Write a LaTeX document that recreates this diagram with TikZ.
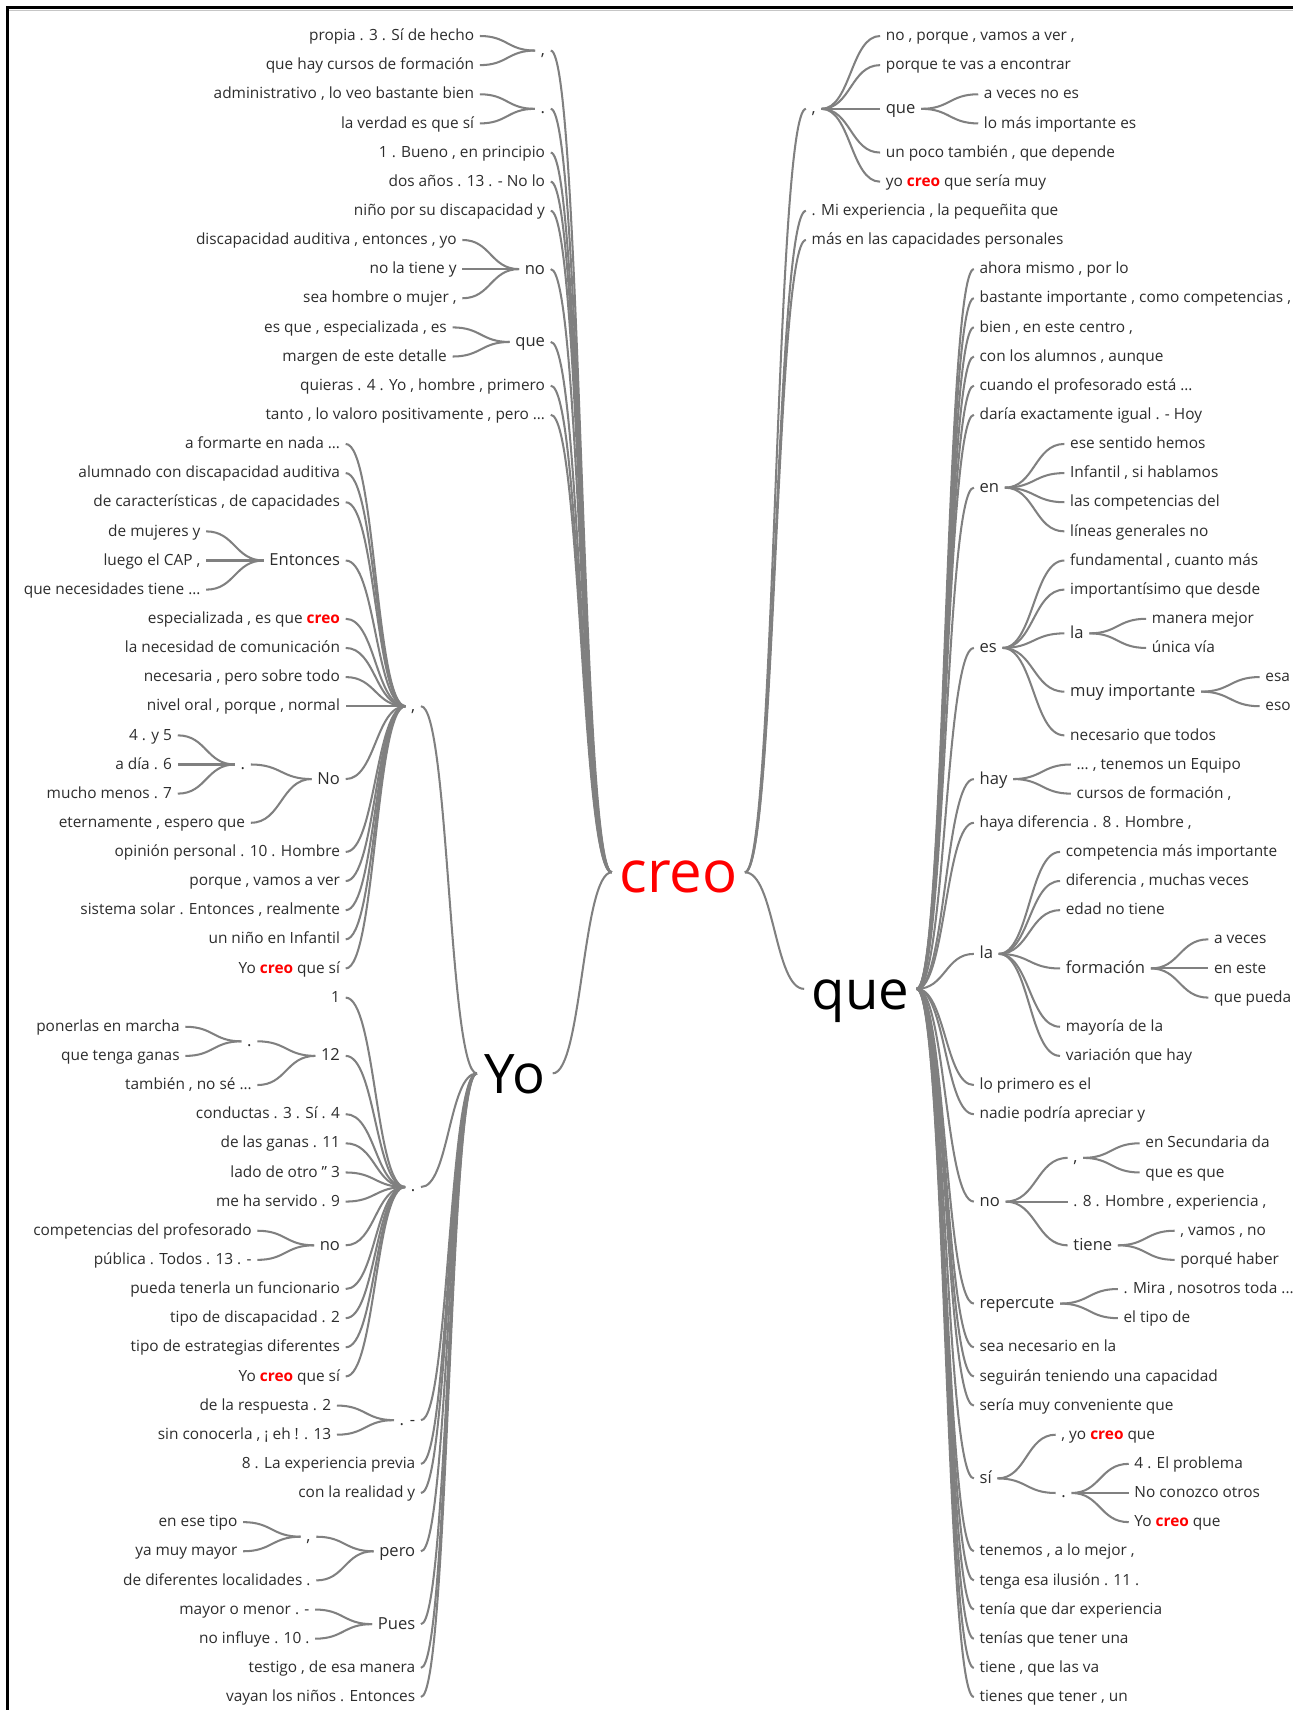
\documentclass[tikz,border=0pt]{standalone}
\usepackage{fontspec}
\setmainfont{Open Sans}
\usetikzlibrary{calc}

\definecolor{linkgray}{RGB}{128,128,128}
\definecolor{wordgray}{RGB}{45,45,45}
\definecolor{hitred}{RGB}{255,0,0}

% row number -> y
\newcommand\R[1]{33+26.72*#1}
\newcommand\hit{\textcolor{hitred}{\bfseries creo}}
% parent -> list of children
\newcommand\fanL[2]{\foreach \c in {#2} \draw[link] (#1.west) to[wt] (\c.east);}
\newcommand\fanR[2]{\foreach \c in {#2} \draw[link] (#1.east) to[wt] (\c.west);}

\tikzset{
  wt/.style={to path={let \p1=(\tikztostart),\p2=(\tikztotarget) in
    .. controls ({(\x1+\x2)/2},\y1) and ({(\x1+\x2)/2},\y2) .. (\tikztotarget)}},
  link/.style={draw=linkgray,line width=1.4pt},
  word/.style={text=wordgray,font=\fontsize{10.6}{12}\selectfont,inner xsep=3.75pt,inner ysep=0pt,text height=8.5pt,text depth=2.1pt},
  mid/.style={font=\fontsize{11.4}{13}\selectfont,text height=9.1pt,text depth=2.3pt},
  lw/.style={word,anchor=east},
  rw/.style={word,anchor=west},
  big/.style={font=\fontsize{37.5}{40}\selectfont,text=black,inner xsep=5pt,inner ysep=0pt,text height=30pt,text depth=2pt},
}

\begin{document}
\begin{tikzpicture}[x=0.75pt,y=-0.75pt]
\useasboundingbox (0,0) rectangle (1186,1568);
\fill[white] (0,0) rectangle (1186,1568);
% frame
\draw[gray!45,line width=0.6pt] (8,9.6) -- (1186,9.6);
\draw[line width=2pt] (6.7,1568) -- (6.7,6.7) -- (1186,6.7);

% Big words
\node[big,text=hitred,font=\fontsize{40}{42}\selectfont] (creo) at (622,\R{28.7}) {creo};
\node[big] (yo) at (472,\R{35.6}) {Yo};
\node[big] (que) at (789,\R{32.7}) {que};

%% ---------------- left of creo
\node[lw,mid] (Lcomma) at (505,\R{0.5}) {,};
\node[lw,mid] (Ldot) at (505,\R{2.5}) {.};
\node[lw] (L4) at (505,\R{4}) {1 . Bueno , en principio};
\node[lw] (L5) at (505,\R{5}) {dos años . 13 . - No lo};
\node[lw] (L6) at (505,\R{6}) {niño por su discapacidad y};
\node[lw,mid] (Lno) at (505,\R{8}) {no};
\node[lw,mid] (Lque) at (505,\R{10.5}) {que};
\node[lw] (L12) at (505,\R{12}) {quieras . 4 . Yo , hombre , primero};
\node[lw] (L13) at (505,\R{13}) {tanto , lo valoro positivamente , pero …};

\node[lw] (L0) at (440,\R{0}) {propia . 3 . Sí de hecho};
\node[lw] (L1) at (440,\R{1}) {que hay cursos de formación};
\node[lw] (L2) at (440,\R{2}) {administrativo , lo veo bastante bien};
\node[lw] (L3) at (440,\R{3}) {la verdad es que sí};
\node[lw] (L7) at (424,\R{7}) {discapacidad auditiva , entonces , yo};
\node[lw] (L8) at (424,\R{8}) {no la tiene y};
\node[lw] (L9) at (424,\R{9}) {sea hombre o mujer ,};
\node[lw] (L10) at (415,\R{10}) {es que , especializada , es};
\node[lw] (L11) at (415,\R{11}) {margen de este detalle};

%% ---------------- left of Yo
\node[lw,mid] (Ycomma) at (386,\R{23}) {,};
\node[lw,mid] (Ydot) at (386,\R{39.5}) {.};
\node[lw,mid] (Ydash) at (386,\R{47.5}) {. -};
\node[lw] (L49) at (386,\R{49}) {8 . La experiencia previa};
\node[lw] (L50) at (386,\R{50}) {con la realidad y};
\node[lw,mid] (Ypero) at (386,\R{52}) {pero};
\node[lw,mid] (Ypues) at (386,\R{54.5}) {Pues};
\node[lw] (L56) at (386,\R{56}) {testigo , de esa manera};
\node[lw] (L57) at (386,\R{57}) {vayan los niños . Entonces};

% under the comma
\node[lw] (L14) at (317,\R{14}) {a formarte en nada …};
\node[lw] (L15) at (317,\R{15}) {alumnado con discapacidad auditiva};
\node[lw] (L16) at (317,\R{16}) {de características , de capacidades};
\node[lw,mid] (Lent) at (317,\R{18}) {Entonces};
\node[lw] (L20) at (317,\R{20}) {especializada , es que \hit};
\node[lw] (L21) at (317,\R{21}) {la necesidad de comunicación};
\node[lw] (L22) at (317,\R{22}) {necesaria , pero sobre todo};
\node[lw] (L23) at (317,\R{23}) {nivel oral , porque , normal};
\node[lw,mid] (LNo) at (317,\R{25.5}) {No};
\node[lw] (L28) at (317,\R{28}) {opinión personal . 10 . Hombre};
\node[lw] (L29) at (317,\R{29}) {porque , vamos a ver};
\node[lw] (L30) at (317,\R{30}) {sistema solar . Entonces , realmente};
\node[lw] (L31) at (317,\R{31}) {un niño en Infantil};
\node[lw] (L32) at (317,\R{32}) {Yo \hit{} que sí};

\node[lw] (L17) at (189,\R{17}) {de mujeres y};
\node[lw] (L18) at (189,\R{18}) {luego el CAP ,};
\node[lw] (L19) at (189,\R{19}) {que necesidades tiene …};
\node[lw,mid] (LNodot) at (230,\R{25}) {.};
\node[lw] (L27) at (230,\R{27}) {eternamente , espero que};
\node[lw] (L24) at (163,\R{24}) {4 . y 5};
\node[lw] (L25) at (163,\R{25}) {a día . 6};
\node[lw] (L26) at (163,\R{26}) {mucho menos . 7};

% under the dot
\node[lw] (L33) at (317,\R{33}) {1};
\node[lw,mid] (Ltwelve) at (317,\R{35}) {12};
\node[lw] (L37) at (317,\R{37}) {conductas . 3 . Sí . 4};
\node[lw] (L38) at (317,\R{38}) {de las ganas . 11};
\node[lw] (L39) at (317,\R{39}) {lado de otro ” 3};
\node[lw] (L40) at (317,\R{40}) {me ha servido . 9};
\node[lw,mid] (Lno2) at (317,\R{41.5}) {no};
\node[lw] (L43) at (317,\R{43}) {pueda tenerla un funcionario};
\node[lw] (L44) at (317,\R{44}) {tipo de discapacidad . 2};
\node[lw] (L45) at (317,\R{45}) {tipo de estrategias diferentes};
\node[lw] (L46) at (317,\R{46}) {Yo \hit{} que sí};

\node[lw,mid] (Ltwdot) at (236,\R{34.5}) {.};
\node[lw] (L36) at (236,\R{36}) {también , no sé …};
\node[lw] (L34) at (170,\R{34}) {ponerlas en marcha};
\node[lw] (L35) at (170,\R{35}) {que tenga ganas};
\node[lw] (L41) at (236,\R{41}) {competencias del profesorado};
\node[lw] (L42) at (236,\R{42}) {pública . Todos . 13 . -};

\node[lw] (L47) at (309,\R{47}) {de la respuesta . 2};
\node[lw] (L48) at (309,\R{48}) {sin conocerla , ¡ eh ! . 13};
\node[lw,mid] (Lpcomma) at (290,\R{51.5}) {,};
\node[lw] (L53) at (290,\R{53}) {de diferentes localidades .};
\node[lw] (L51) at (223,\R{51}) {en ese tipo};
\node[lw] (L52) at (223,\R{52}) {ya muy mayor};
\node[lw] (L54) at (289,\R{54}) {mayor o menor . -};
\node[lw] (L55) at (289,\R{55}) {no influye . 10 .};

%% ---------------- right of creo
\node[rw,mid] (Rcomma) at (739,\R{2.5}) {,};
\node[rw] (R6) at (739,\R{6}) {. Mi experiencia , la pequeñita que};
\node[rw] (R7) at (739,\R{7}) {más en las capacidades personales};

\node[rw] (R0) at (807,\R{0}) {no , porque , vamos a ver ,};
\node[rw] (R1) at (807,\R{1}) {porque te vas a encontrar};
\node[rw,mid] (Rque) at (807,\R{2.5}) {que};
\node[rw] (R4) at (807,\R{4}) {un poco también , que depende};
\node[rw] (R5) at (807,\R{5}) {yo \hit{} que sería muy};
\node[rw] (R2) at (897,\R{2}) {a veces no es};
\node[rw] (R3) at (897,\R{3}) {lo más importante es};

%% ---------------- right of que
\node[rw] (R8) at (893,\R{8}) {ahora mismo , por lo};
\node[rw] (R9) at (893,\R{9}) {bastante importante , como competencias ,};
\node[rw] (R10) at (893,\R{10}) {bien , en este centro ,};
\node[rw] (R11) at (893,\R{11}) {con los alumnos , aunque};
\node[rw] (R12) at (893,\R{12}) {cuando el profesorado está …};
\node[rw] (R13) at (893,\R{13}) {daría exactamente igual . - Hoy};
\node[rw,mid] (Ren) at (893,\R{15.5}) {en};
\node[rw,mid] (Res) at (893,\R{21}) {es};
\node[rw,mid] (Rhay) at (893,\R{25.5}) {hay};
\node[rw] (R27) at (893,\R{27}) {haya diferencia . 8 . Hombre ,};
\node[rw,mid] (Rla) at (893,\R{31.5}) {la};
\node[rw] (R36) at (893,\R{36}) {lo primero es el};
\node[rw] (R37) at (893,\R{37}) {nadie podría apreciar y};
\node[rw,mid] (Rno) at (893,\R{40}) {no};
\node[rw,mid] (Rrep) at (893,\R{43.5}) {repercute};
\node[rw] (R45) at (893,\R{45}) {sea necesario en la};
\node[rw] (R46) at (893,\R{46}) {seguirán teniendo una capacidad};
\node[rw] (R47) at (893,\R{47}) {sería muy conveniente que};
\node[rw,mid] (Rsi) at (893,\R{49.5}) {sí};
\node[rw] (R52) at (893,\R{52}) {tenemos , a lo mejor ,};
\node[rw] (R53) at (893,\R{53}) {tenga esa ilusión . 11 .};
\node[rw] (R54) at (893,\R{54}) {tenía que dar experiencia};
\node[rw] (R55) at (893,\R{55}) {tenías que tener una};
\node[rw] (R56) at (893,\R{56}) {tiene , que las va};
\node[rw] (R57) at (893,\R{57}) {tienes que tener , un};

% en / es / hay
\node[rw] (R14) at (976,\R{14}) {ese sentido hemos};
\node[rw] (R15) at (976,\R{15}) {Infantil , si hablamos};
\node[rw] (R16) at (976,\R{16}) {las competencias del};
\node[rw] (R17) at (976,\R{17}) {líneas generales no};
\node[rw] (R18) at (976,\R{18}) {fundamental , cuanto más};
\node[rw] (R19) at (976,\R{19}) {importantísimo que desde};
\node[rw,mid] (Rla2) at (976,\R{20.5}) {la};
\node[rw,mid] (Rmuy) at (976,\R{22.5}) {muy importante};
\node[rw] (R24) at (976,\R{24}) {necesario que todos};
\node[rw] (R20) at (1051,\R{20}) {manera mejor};
\node[rw] (R21) at (1051,\R{21}) {única vía};
\node[rw] (R22) at (1155,\R{22}) {esa};
\node[rw] (R23) at (1155,\R{23}) {eso};
\node[rw] (R25) at (982,\R{25}) {… , tenemos un Equipo};
\node[rw] (R26) at (982,\R{26}) {cursos de formación ,};

% la
\node[rw] (R28) at (972,\R{28}) {competencia más importante};
\node[rw] (R29) at (972,\R{29}) {diferencia , muchas veces};
\node[rw] (R30) at (972,\R{30}) {edad no tiene};
\node[rw,mid] (Rform) at (972,\R{32}) {formación};
\node[rw] (R34) at (972,\R{34}) {mayoría de la};
\node[rw] (R35) at (972,\R{35}) {variación que hay};
\node[rw] (R31) at (1108,\R{31}) {a veces};
\node[rw] (R32) at (1108,\R{32}) {en este};
\node[rw] (R33) at (1108,\R{33}) {que pueda};

% no / repercute / sí
\node[rw,mid] (Rnocomma) at (979,\R{38.5}) {,};
\node[rw] (R40) at (979,\R{40}) {. 8 . Hombre , experiencia ,};
\node[rw,mid] (Rtiene) at (979,\R{41.5}) {tiene};
\node[rw] (R38) at (1045,\R{38}) {en Secundaria da};
\node[rw] (R39) at (1045,\R{39}) {que es que};
\node[rw] (R41) at (1077,\R{41}) {, vamos , no};
\node[rw] (R42) at (1077,\R{42}) {porqué haber};
\node[rw] (R43) at (1025,\R{43}) {. Mira , nosotros toda ...};
\node[rw] (R44) at (1025,\R{44}) {el tipo de};
\node[rw] (R48) at (968,\R{48}) {, yo \hit{} que};
\node[rw,mid] (Rsidot) at (968,\R{50}) {.};
\node[rw] (R49) at (1035,\R{49}) {4 . El problema};
\node[rw] (R50) at (1035,\R{50}) {No conozco otros};
\node[rw] (R51) at (1035,\R{51}) {Yo \hit{} que};

%% ---------------- connectors
\fanL{creo}{Lcomma,Ldot,L4,L5,L6,Lno,Lque,L12,L13,yo}
\fanL{Lcomma}{L0,L1}
\fanL{Ldot}{L2,L3}
\fanL{Lno}{L7,L8,L9}
\fanL{Lque}{L10,L11}
\fanL{yo}{Ycomma,Ydot,Ydash,L49,L50,Ypero,Ypues,L56,L57}
\fanL{Ycomma}{L14,L15,L16,Lent,L20,L21,L22,L23,LNo,L28,L29,L30,L31,L32}
\fanL{Lent}{L17,L18,L19}
\fanL{LNo}{LNodot,L27}
\fanL{LNodot}{L24,L25,L26}
\fanL{Ydot}{L33,Ltwelve,L37,L38,L39,L40,Lno2,L43,L44,L45,L46}
\fanL{Ltwelve}{Ltwdot,L36}
\fanL{Ltwdot}{L34,L35}
\fanL{Lno2}{L41,L42}
\fanL{Ydash}{L47,L48}
\fanL{Ypero}{Lpcomma,L53}
\fanL{Lpcomma}{L51,L52}
\fanL{Ypues}{L54,L55}

\fanR{creo}{Rcomma,R6,R7,que}
\fanR{Rcomma}{R0,R1,Rque,R4,R5}
\fanR{Rque}{R2,R3}
\fanR{que}{R8,R9,R10,R11,R12,R13,Ren,Res,Rhay,R27,Rla,R36,R37,Rno,Rrep,R45,R46,R47,Rsi,R52,R53,R54,R55,R56,R57}
\fanR{Ren}{R14,R15,R16,R17}
\fanR{Res}{R18,R19,Rla2,Rmuy,R24}
\fanR{Rla2}{R20,R21}
\fanR{Rmuy}{R22,R23}
\fanR{Rhay}{R25,R26}
\fanR{Rla}{R28,R29,R30,Rform,R34,R35}
\fanR{Rform}{R31,R32,R33}
\fanR{Rno}{Rnocomma,R40,Rtiene}
\fanR{Rnocomma}{R38,R39}
\fanR{Rtiene}{R41,R42}
\fanR{Rrep}{R43,R44}
\fanR{Rsi}{R48,Rsidot}
\fanR{Rsidot}{R49,R50,R51}
\end{tikzpicture}
\end{document}
